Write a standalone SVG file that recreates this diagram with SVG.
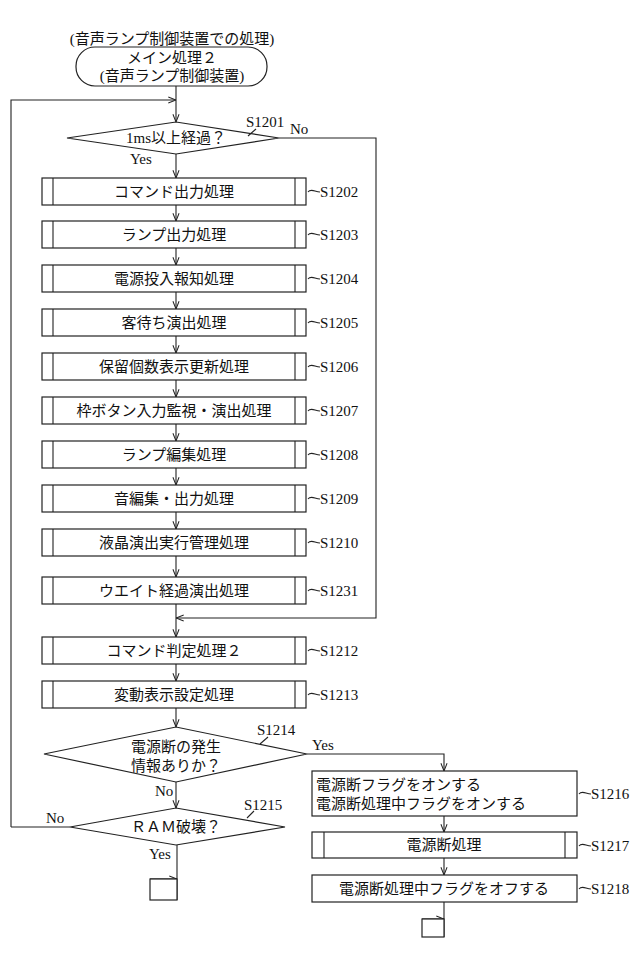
<svg xmlns="http://www.w3.org/2000/svg" width="640" height="976" viewBox="0 0 640 976">
<style>
.s{fill:#fff;stroke:#222;stroke-width:1.2}
.l{fill:none;stroke:#222;stroke-width:1.1}
.t{font-family:"Liberation Serif","Noto Sans CJK JP",serif;font-size:15px;fill:#111;text-anchor:middle}
.lb{font-family:"Liberation Serif","Noto Sans CJK JP",serif;font-size:15px;fill:#111}
</style>
<defs>
<marker id="a" viewBox="0 0 10 10" refX="10" refY="5" markerWidth="7" markerHeight="7" orient="auto"><path d="M0,1 L10,5 L0,9" fill="none" stroke="#222" stroke-width="1.3"/></marker>
</defs>
<rect width="640" height="976" fill="#fff"/>
<g id="connectors" class="l">
<path d="M176,86 V122" marker-end="url(#a)"/>
<path d="M11,827 H70 M11,827 V100 H176" marker-end="url(#a)"/>
<path d="M176,154 V178" marker-end="url(#a)"/>
<path d="M176,205 V221" marker-end="url(#a)"/>
<path d="M176,248 V265" marker-end="url(#a)"/>
<path d="M176,292 V309" marker-end="url(#a)"/>
<path d="M176,336 V353" marker-end="url(#a)"/>
<path d="M176,380 V397" marker-end="url(#a)"/>
<path d="M176,424 V441" marker-end="url(#a)"/>
<path d="M176,468 V485" marker-end="url(#a)"/>
<path d="M176,512 V529" marker-end="url(#a)"/>
<path d="M176,556 V577" marker-end="url(#a)"/>
<path d="M176,604 V637" marker-end="url(#a)"/>
<path d="M279,138 H376 V618 H176" marker-end="url(#a)"/>
<path d="M176,664 V681" marker-end="url(#a)"/>
<path d="M176,708 V727" marker-end="url(#a)"/>
<path d="M176,782 V808" marker-end="url(#a)"/>
<path d="M307,754 H444 V771" marker-end="url(#a)"/>
<path d="M444,816 V832" marker-end="url(#a)"/>
<path d="M444,858 V875" marker-end="url(#a)"/>
<path d="M177,845 V900"/>
<path d="M150,879 H177" marker-end="url(#a)"/>
<path d="M444,902 V937"/>
<path d="M422,919 H444" marker-end="url(#a)"/>
</g>
<g id="start">
<text class="t" x="172" y="44">(音声ランプ制御装置での処理)</text>
<rect class="s" x="76" y="47" width="191" height="39" rx="19"/>
<text class="t" x="172" y="63">メイン処理２</text>
<text class="t" x="172" y="81">(音声ランプ制御装置)</text>
</g>
<g id="S1201">
<polygon class="s" points="67,138 176,122 279,138 176,154"/>
<text class="t" x="176" y="143">1ms以上経過？</text>
<text class="lb" x="246" y="127">S1201</text>
<path class="l" d="M248,136 L256,129"/>
<text class="lb" x="290" y="134">No</text>
<text class="lb" x="130" y="164">Yes</text>
</g>
<g id="procs">
<g id="S1202"><rect class="s" x="42" y="178" width="264" height="27"/><path class="l" d="M53,178V205M295,178V205"/><text class="t" x="174" y="197">コマンド出力処理</text><path class="l" d="M308,192c3,-4 7,0 12,0"/><text class="lb" x="320" y="197">S1202</text></g>
<g id="S1203"><rect class="s" x="42" y="221" width="264" height="27"/><path class="l" d="M53,221V248M295,221V248"/><text class="t" x="174" y="240">ランプ出力処理</text><path class="l" d="M308,235c3,-4 7,0 12,0"/><text class="lb" x="320" y="240">S1203</text></g>
<g id="S1204"><rect class="s" x="42" y="265" width="264" height="27"/><path class="l" d="M53,265V292M295,265V292"/><text class="t" x="174" y="284">電源投入報知処理</text><path class="l" d="M308,279c3,-4 7,0 12,0"/><text class="lb" x="320" y="284">S1204</text></g>
<g id="S1205"><rect class="s" x="42" y="309" width="264" height="27"/><path class="l" d="M53,309V336M295,309V336"/><text class="t" x="174" y="328">客待ち演出処理</text><path class="l" d="M308,323c3,-4 7,0 12,0"/><text class="lb" x="320" y="328">S1205</text></g>
<g id="S1206"><rect class="s" x="42" y="353" width="264" height="27"/><path class="l" d="M53,353V380M295,353V380"/><text class="t" x="174" y="372">保留個数表示更新処理</text><path class="l" d="M308,367c3,-4 7,0 12,0"/><text class="lb" x="320" y="372">S1206</text></g>
<g id="S1207"><rect class="s" x="42" y="397" width="264" height="27"/><path class="l" d="M53,397V424M295,397V424"/><text class="t" x="174" y="416">枠ボタン入力監視・演出処理</text><path class="l" d="M308,411c3,-4 7,0 12,0"/><text class="lb" x="320" y="416">S1207</text></g>
<g id="S1208"><rect class="s" x="42" y="441" width="264" height="27"/><path class="l" d="M53,441V468M295,441V468"/><text class="t" x="174" y="460">ランプ編集処理</text><path class="l" d="M308,455c3,-4 7,0 12,0"/><text class="lb" x="320" y="460">S1208</text></g>
<g id="S1209"><rect class="s" x="42" y="485" width="264" height="27"/><path class="l" d="M53,485V512M295,485V512"/><text class="t" x="174" y="504">音編集・出力処理</text><path class="l" d="M308,499c3,-4 7,0 12,0"/><text class="lb" x="320" y="504">S1209</text></g>
<g id="S1210"><rect class="s" x="42" y="529" width="264" height="27"/><path class="l" d="M53,529V556M295,529V556"/><text class="t" x="174" y="548">液晶演出実行管理処理</text><path class="l" d="M308,543c3,-4 7,0 12,0"/><text class="lb" x="320" y="548">S1210</text></g>
<g id="S1231"><rect class="s" x="42" y="577" width="264" height="27"/><path class="l" d="M53,577V604M295,577V604"/><text class="t" x="174" y="596">ウエイト経過演出処理</text><path class="l" d="M308,591c3,-4 7,0 12,0"/><text class="lb" x="320" y="596">S1231</text></g>
<g id="S1212"><rect class="s" x="42" y="637" width="264" height="27"/><path class="l" d="M53,637V664M295,637V664"/><text class="t" x="174" y="656">コマンド判定処理２</text><path class="l" d="M308,651c3,-4 7,0 12,0"/><text class="lb" x="320" y="656">S1212</text></g>
<g id="S1213"><rect class="s" x="42" y="681" width="264" height="27"/><path class="l" d="M53,681V708M295,681V708"/><text class="t" x="174" y="700">変動表示設定処理</text><path class="l" d="M308,695c3,-4 7,0 12,0"/><text class="lb" x="320" y="700">S1213</text></g>
</g>
<g id="S1214">
<polygon class="s" points="44,754 176,727 307,754 176,782"/>
<text class="t" x="176" y="752">電源断の発生</text>
<text class="t" x="176" y="771">情報ありか？</text>
<text class="lb" x="257" y="735">S1214</text>
<path class="l" d="M260,744 L268,737"/>
<text class="lb" x="312" y="750">Yes</text>
<text class="lb" x="155" y="796">No</text>
</g>
<g id="S1215">
<polygon class="s" points="70,827 176,808 285,827 176,845"/>
<text class="t" x="176" y="832">ＲＡＭ破壊？</text>
<text class="lb" x="244" y="810">S1215</text>
<path class="l" d="M247,818 L254,811"/>
<text class="lb" x="46" y="823">No</text>
<text class="lb" x="149" y="859">Yes</text>
<rect class="s" x="150" y="879" width="27" height="21"/>
</g>
<g id="S1216"><rect class="s" x="312" y="771" width="265" height="45"/><text class="lb" x="316" y="790">電源断フラグをオンする</text><text class="lb" x="316" y="809">電源断処理中フラグをオンする</text><path class="l" d="M579,794c3,-4 7,0 12,0"/><text class="lb" x="591" y="799">S1216</text></g>
<g id="S1217"><rect class="s" x="312" y="832" width="265" height="26"/><path class="l" d="M324,832V858M565,832V858"/><text class="t" x="444" y="850">電源断処理</text><path class="l" d="M579,846c3,-4 7,0 12,0"/><text class="lb" x="591" y="851">S1217</text></g>
<g id="S1218"><rect class="s" x="312" y="875" width="265" height="27"/><text class="t" x="444" y="894">電源断処理中フラグをオフする</text><path class="l" d="M579,889c3,-4 7,0 12,0"/><text class="lb" x="591" y="894">S1218</text>
<rect class="s" x="422" y="919" width="22" height="18"/></g>
</svg>
